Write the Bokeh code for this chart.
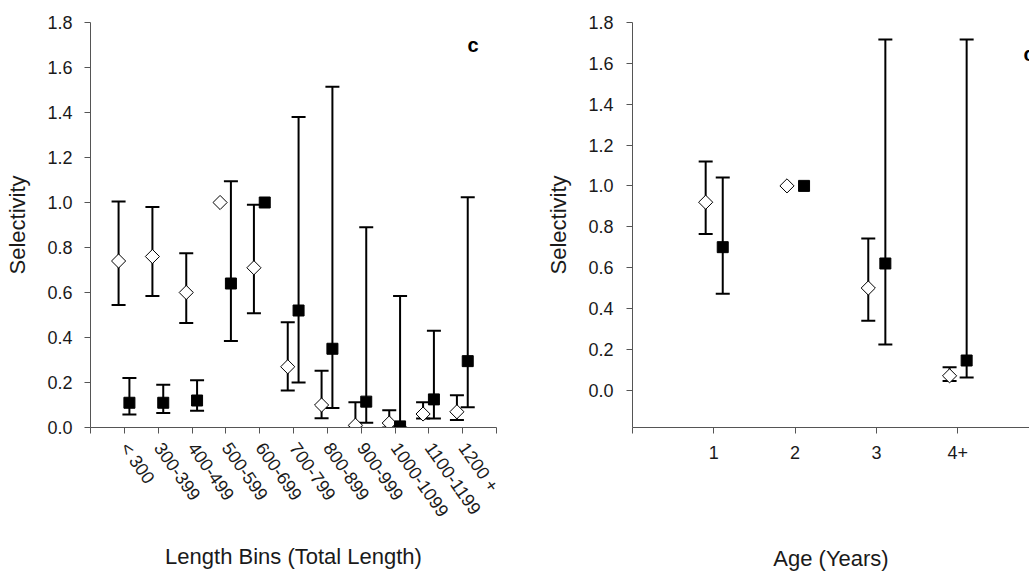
import math
from bokeh.plotting import figure
from bokeh.layouts import row
from bokeh.models import Range1d, FixedTicker, Whisker, TeeHead, ColumnDataSource
from bokeh.core.properties import value
from bokeh.embed import file_html
from bokeh.resources import INLINE

nan = float("nan")

# ---- Panel 1: length bins ----
length_bins = ["< 300", "300-399", "400-499", "500-599", "600-699", "700-799",
               "800-899", "900-999", "1000-1099", "1100-1199", "1200 +"]
len_open = [0.74, 0.76, 0.60, 1.00, 0.71, 0.27, 0.10, 0.01, 0.02, 0.06, 0.07]
len_open_hi = [1.005, 0.98, 0.775, nan, 0.99, 0.468, 0.252, 0.112, 0.077, 0.112, 0.143]
len_open_lo = [0.545, 0.585, 0.465, nan, 0.508, 0.165, 0.041, 0.0, 0.0, 0.04, 0.033]
len_fill = [0.11, 0.11, 0.12, 0.64, 1.00, 0.52, 0.35, 0.115, 0.005, 0.125, 0.295]
len_fill_hi = [0.22, 0.19, 0.21, 1.095, nan, 1.38, 1.515, 0.89, 0.585, 0.43, 1.023]
len_fill_lo = [0.058, 0.065, 0.074, 0.384, nan, 0.20, 0.087, 0.021, 0.0, 0.04, 0.09]

# ---- Panel 2: age ----
ages = ["1", "2", "3", "4+"]
age_open = [0.92, 1.00, 0.50, 0.07]
age_open_hi = [1.12, nan, 0.743, 0.112]
age_open_lo = [0.764, nan, 0.34, 0.045]
age_fill = [0.70, 1.00, 0.62, 0.145]
age_fill_hi = [1.041, nan, 1.717, 1.717]
age_fill_lo = [0.472, nan, 0.223, 0.062]

FONT = "Liberation Sans"
y_ticks = [0.0, 0.2, 0.4, 0.6, 0.8, 1.0, 1.2, 1.4, 1.6, 1.8]


def style_axes(p):
    p.xgrid.visible = False
    p.ygrid.visible = False
    p.outline_line_color = None
    p.background_fill_color = "white"
    p.border_fill_color = "white"
    for ax in (p.xaxis[0], p.yaxis[0]):
        ax.axis_line_color = "#555555"
        ax.axis_line_width = 1
        ax.major_tick_line_color = "#555555"
        ax.major_tick_out = 6
        ax.major_tick_in = 0
        ax.minor_tick_line_color = None
        ax.major_label_text_font = FONT
        ax.major_label_text_font_size = "18px"
        ax.major_label_text_color = "#1a1a1a"
        ax.axis_label_text_font = FONT
        ax.axis_label_text_font_size = "22px"
        ax.axis_label_text_font_style = "normal"
        ax.axis_label_text_color = "#1a1a1a"
    p.yaxis[0].ticker = FixedTicker(ticks=y_ticks)
    p.yaxis[0].major_label_overrides = {t: f"{t:.1f}" for t in y_ticks}
    p.yaxis[0].axis_label = "Selectivity"


def add_series(p, xs, vals, his, los, kind):
    idx = [i for i in range(len(vals)) if not (math.isnan(his[i]) or math.isnan(los[i]))]
    src = ColumnDataSource(dict(x=[xs[i] for i in idx],
                                upper=[his[i] for i in idx],
                                lower=[los[i] for i in idx]))
    w = Whisker(base="x", upper="upper", lower="lower", source=src,
                line_color="black", line_width=2, level="underlay",
                upper_head=TeeHead(size=14, line_width=2, line_color="black"),
                lower_head=TeeHead(size=14, line_width=2, line_color="black"))
    p.add_layout(w)
    if kind == "open":
        p.scatter(xs, vals, marker="square", angle=math.pi / 4, size=10,
                  fill_color="white", line_color="black", line_width=1)
    else:
        p.scatter(xs, vals, marker="square", size=11,
                  fill_color="black", line_color="black")


# Left figure
p1 = figure(width=540, height=573, x_range=Range1d(0, len(length_bins) + 1),
            y_range=Range1d(0, 1.8), output_backend="svg", toolbar_location=None,
            min_border_left=90, min_border_right=44, min_border_top=22,
            min_border_bottom=145)
style_axes(p1)
p1.yaxis[0].major_label_standoff = 12
p1.yaxis[0].axis_label_standoff = 14
xt1 = list(range(0, len(length_bins) + 2))
p1.xaxis[0].ticker = FixedTicker(ticks=xt1)
ov1 = {0: "", len(length_bins) + 1: ""}
for i, lab in enumerate(length_bins):
    ov1[i + 1] = lab
p1.xaxis[0].major_label_overrides = ov1
p1.xaxis[0].major_label_orientation = -0.96
p1.xaxis[0].major_label_standoff = 11
p1.xaxis[0].axis_label = "Length Bins (Total Length)"
p1.xaxis[0].axis_label_standoff = 15

x_open1 = [i + 1 - 0.17 for i in range(len(length_bins))]
x_fill1 = [i + 1 + 0.15 for i in range(len(length_bins))]
add_series(p1, x_open1, len_open, len_open_hi, len_open_lo, "open")
add_series(p1, x_fill1, len_fill, len_fill_hi, len_fill_lo, "fill")
p1.text(x=[11.14], y=[1.70], text=["c"], text_font=value(FONT),
        text_font_style="bold", text_font_size="20px",
        text_baseline="alphabetic", text_align="left", text_color="black")

# Right figure
p2 = figure(width=489, height=573, x_range=Range1d(0, 4.883),
            y_range=Range1d(-0.183, 1.8), output_backend="svg", toolbar_location=None,
            min_border_left=92, min_border_right=0, min_border_top=22,
            min_border_bottom=145)
style_axes(p2)
p2.yaxis[0].major_label_standoff = 13
p2.yaxis[0].axis_label_standoff = 14
p2.xaxis[0].ticker = FixedTicker(ticks=list(range(0, len(ages) + 2)))
ov2 = {0: "", len(ages) + 1: ""}
for i, lab in enumerate(ages):
    ov2[i + 1] = lab
p2.xaxis[0].major_label_overrides = ov2
p2.xaxis[0].major_label_standoff = 12
p2.xaxis[0].axis_label = "Age (Years)"
p2.xaxis[0].axis_label_standoff = 84

x_open2 = [i + 1 - 0.10 for i in range(len(ages))]
x_fill2 = [i + 1 + 0.11 for i in range(len(ages))]
add_series(p2, x_open2, age_open, age_open_hi, age_open_lo, "open")
add_series(p2, x_fill2, age_fill, age_fill_hi, age_fill_lo, "fill")
p2.text(x=[4.81], y=[1.648], text=["c"], text_font=value(FONT),
        text_font_style="bold", text_font_size="20px",
        text_baseline="alphabetic", text_align="left", text_color="black")

layout = row(p1, p2)
open("out.html", "w").write(file_html(layout, INLINE))
